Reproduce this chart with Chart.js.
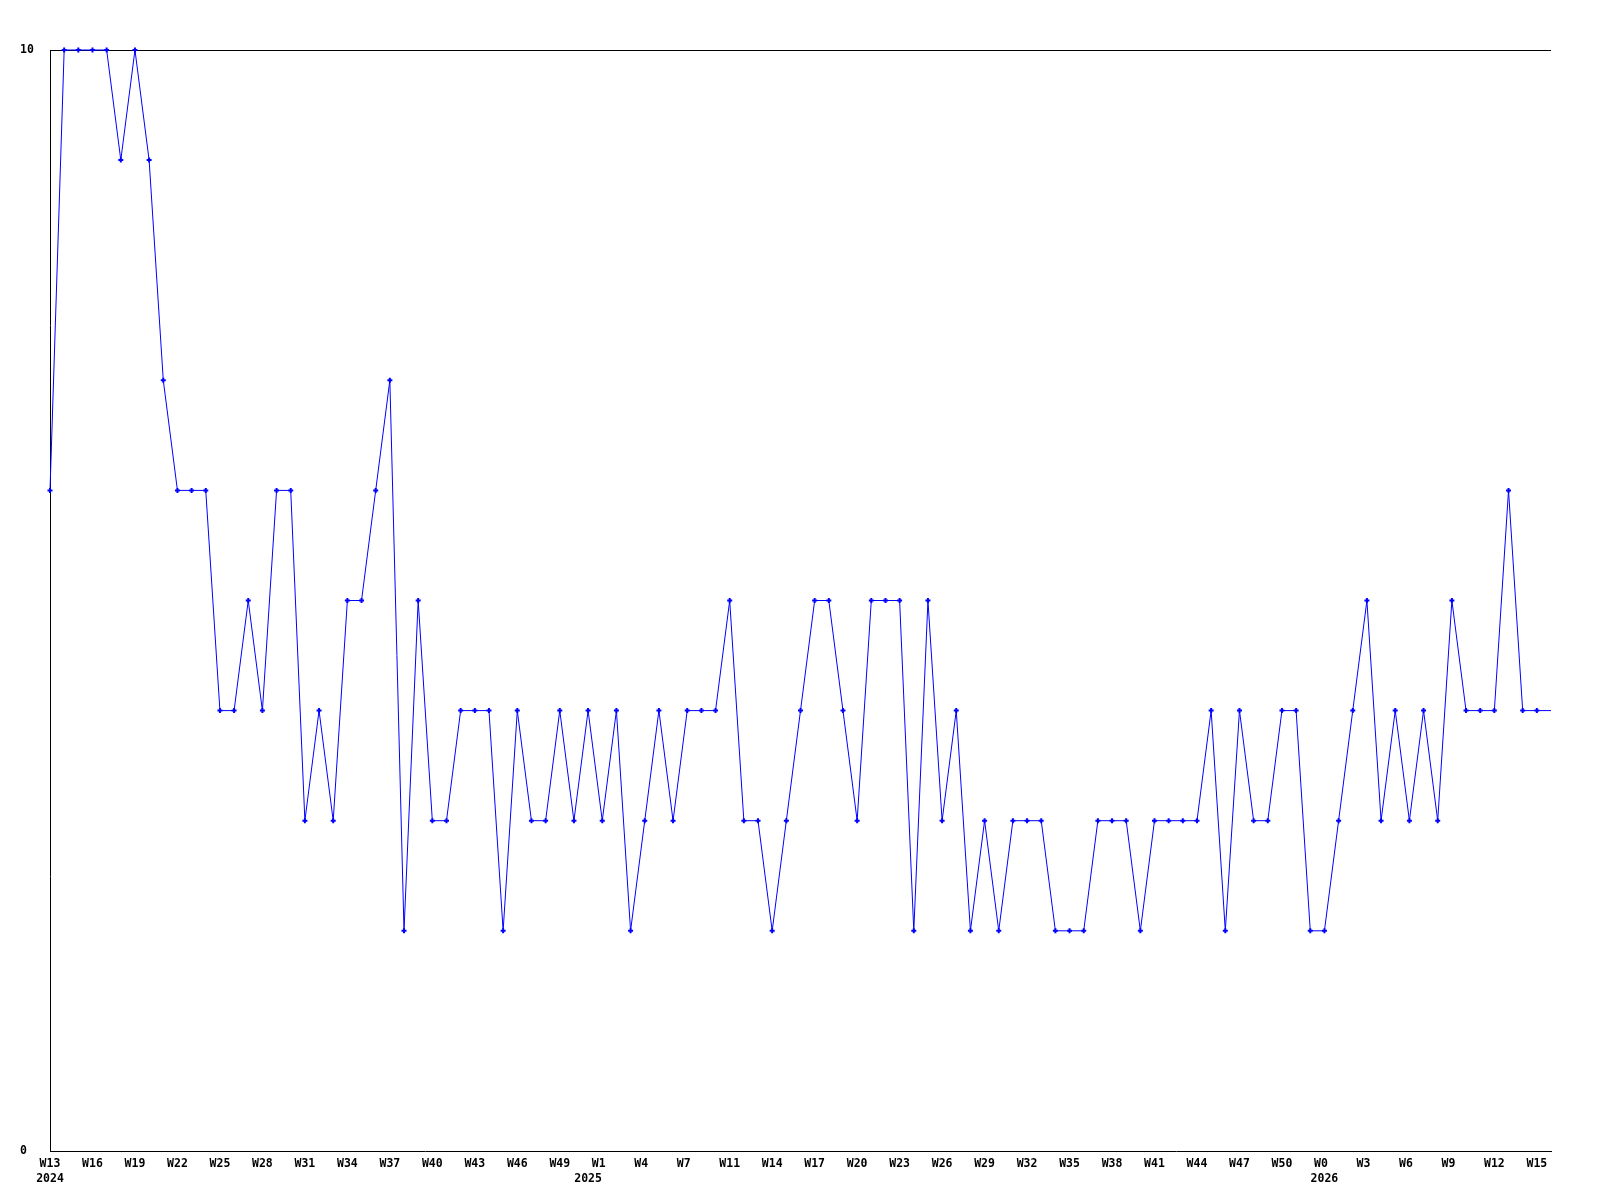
<!DOCTYPE html>
<html>
<head>
<meta charset="utf-8">
<script src="https://cdn.jsdelivr.net/npm/chart.js@4/dist/chart.umd.min.js"></script>
<style>
  body { margin: 0; background: #fff; }
</style>
</head>
<body>
<canvas id="weekChart" width="1600" height="1200"></canvas>
<script>
// weekly counts, one per week starting 2024 W13
const values = [
    6, 10, 10, 10, 10, 9, 10, 9, 7, 6, 6, 6,
    4, 4, 5, 4, 6, 6, 3, 4, 3, 5, 5, 6,
    7, 2, 5, 3, 3, 4, 4, 4, 2, 4, 3, 3,
    4, 3, 4, 3, 4, 2, 3, 4, 3, 4, 4, 4,
    5, 3, 3, 2, 3, 4, 5, 5, 4, 3, 5, 5,
    5, 2, 5, 3, 4, 2, 3, 2, 3, 3, 3, 2,
    2, 2, 3, 3, 3, 2, 3, 3, 3, 3, 4, 2,
    4, 3, 3, 4, 4, 2, 2, 3, 4, 5, 3, 4,
    3, 4, 3, 5, 4, 4, 4, 6, 4, 4, 4
];

// x tick positions (week index) and their labels
const weekTicks = [0, 3, 6, 9, 12, 15, 18, 21, 24, 27, 30, 33, 36, 39, 42, 45, 48, 51,
    54, 57, 60, 63, 66, 69, 72, 75, 78, 81, 84, 87, 90, 93, 96, 99, 102, 105];
const weekLabels = ['W13', 'W16', 'W19', 'W22', 'W25', 'W28', 'W31', 'W34', 'W37', 'W40',
    'W43', 'W46', 'W49', 'W1', 'W4', 'W7', 'W11', 'W14', 'W17', 'W20', 'W23', 'W26',
    'W29', 'W32', 'W35', 'W38', 'W41', 'W44', 'W47', 'W50', 'W0', 'W3', 'W6', 'W9',
    'W12', 'W15'];

const yearTicks = [0, 38, 90];
const yearLabels = ['2024', '2025', '2026'];

const yTicks = [0, 10];

const labelFont = { family: 'DejaVu Sans Mono', size: 11.5, weight: 'bold', lineHeight: 1.2 };
const lastIndex = values.length - 1;

const ctx = document.getElementById('weekChart').getContext('2d');
new Chart(ctx, {
    type: 'line',
    data: {
        datasets: [{
            data: values.map((v, i) => ({ x: i, y: v })),
            borderColor: '#0000ff',
            borderWidth: 1,
            tension: 0,
            pointStyle: 'cross',
            pointRadius: (c) => c.dataIndex === lastIndex ? 0 : 2.5,
            pointBorderWidth: 2,
            pointBorderColor: '#0000ff',
            pointBackgroundColor: '#0000ff',
            clip: false
        }]
    },
    options: {
        responsive: false,
        animation: false,
        events: [],
        layout: {
            padding: { left: 20, right: 49, top: 50, bottom: 0 }
        },
        plugins: {
            legend: { display: false },
            tooltip: { enabled: false }
        },
        scales: {
            x: {
                type: 'linear',
                position: 'bottom',
                weight: 0,
                min: 0,
                max: lastIndex,
                grid: { display: false, drawTicks: false },
                border: { display: true, color: '#000', width: 1 },
                afterBuildTicks: (scale) => {
                    scale.ticks = weekTicks.map(v => ({ value: v }));
                },
                afterFit: (scale) => { scale.height = 20; },
                ticks: {
                    autoSkip: false,
                    maxRotation: 0,
                    padding: 6,
                    color: '#000',
                    font: labelFont,
                    // pad to 3 chars so short labels line up on the left
                    callback: (v) => {
                        const k = weekTicks.indexOf(v);
                        return k < 0 ? '' : weekLabels[k].padEnd(3, ' ');
                    }
                }
            },
            x2: {
                type: 'linear',
                position: 'bottom',
                weight: 1,
                min: 0,
                max: lastIndex,
                grid: { display: false, drawTicks: false },
                border: { display: false },
                afterBuildTicks: (scale) => {
                    scale.ticks = yearTicks.map(v => ({ value: v }));
                },
                afterFit: (scale) => { scale.height = 29; },
                ticks: {
                    autoSkip: false,
                    maxRotation: 0,
                    padding: 1.3,
                    color: '#000',
                    font: labelFont,
                    callback: (v) => {
                        const k = yearTicks.indexOf(v);
                        return k < 0 ? '' : yearLabels[k];
                    }
                }
            },
            y: {
                min: 0,
                max: 10,
                afterBuildTicks: (scale) => {
                    scale.ticks = yTicks.map(v => ({ value: v }));
                },
                afterFit: (scale) => { scale.width = 30; },
                grid: {
                    drawTicks: false,
                    color: (c) => c.tick && c.tick.value === 10 ? '#000' : 'rgba(0,0,0,0)',
                    lineWidth: 1
                },
                border: { display: true, color: '#000', width: 1 },
                ticks: {
                    crossAlign: 'far',
                    color: '#000',
                    font: labelFont
                }
            }
        }
    }
});
</script>
</body>
</html>
